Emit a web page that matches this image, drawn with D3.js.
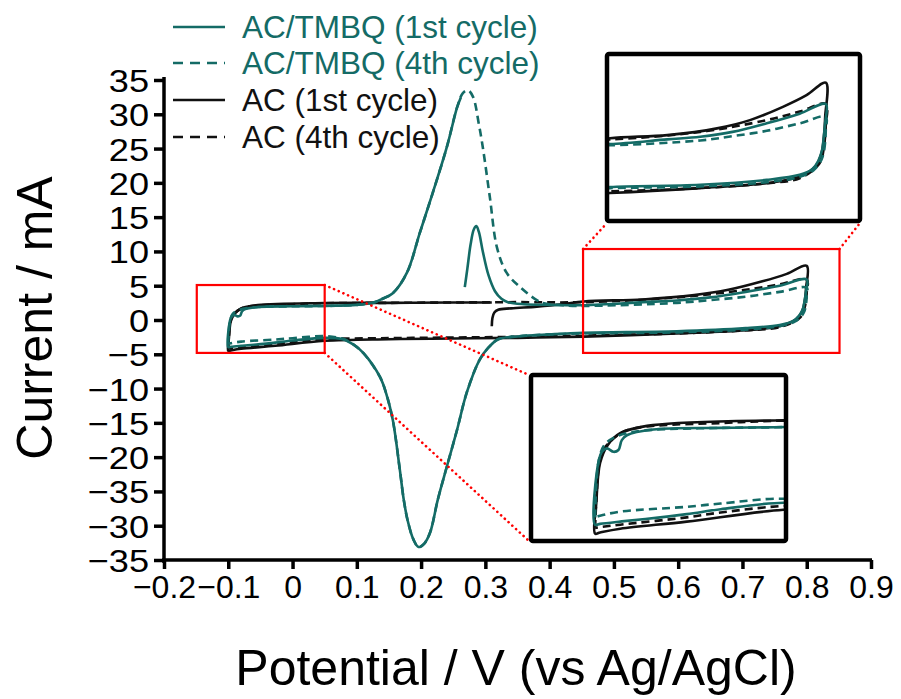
<!DOCTYPE html>
<html>
<head>
<meta charset="utf-8">
<script src="https://cdn.jsdelivr.net/npm/d3@7/dist/d3.min.js"></script>
<style>
  body { margin: 0; background: #fff; }
  svg { display: block; font-family: "Liberation Sans", Arial, sans-serif; }
</style>
</head>
<body>
<svg id="chart" width="901" height="699"></svg>
<script>
// tick labels as printed on the original figure (note the odd "-35" in place of -25)
var xTickValues = [-0.2, -0.1, 0, 0.1, 0.2, 0.3, 0.4, 0.5, 0.6, 0.7, 0.8, 0.9];
var xTickLabels = ["\u22120.2", "\u22120.1", "0", "0.1", "0.2", "0.3", "0.4", "0.5", "0.6", "0.7", "0.8", "0.9"];
var yTickValues = [35, 30, 25, 20, 15, 10, 5, 0, -5, -10, -15, -20, -25, -30, -35];
var yTickLabels = ["35", "30", "25", "20", "15", "10", "5", "0", "\u22125", "\u221210", "\u221215", "\u221220", "\u221235", "\u221230", "\u221235"];

var seriesNames = ["AC/TMBQ (1st cycle)", "AC/TMBQ (4th cycle)", "AC (1st cycle)", "AC (4th cycle)"];

// [potential V, current mA], in scan order
var acTmbq1st = [
  [0.268, 4.8], [0.272, 7.5], [0.277, 11.0], [0.282, 13.2], [0.286, 13.7], [0.290, 12.8], [0.296, 10.0],
  [0.305, 6.5], [0.315, 4.2], [0.325, 3.1], [0.335, 2.6], [0.36, 2.3], [0.40, 2.2], [0.453, 2.16],
  [0.545, 2.6], [0.598, 2.85], [0.65, 3.3], [0.705, 4.1], [0.758, 5.0], [0.80, 5.9],
  [0.799, 4.2], [0.797, 3.0], [0.794, 1.6], [0.788, 0.6], [0.778, -0.2], [0.758, -0.72], [0.705, -1.19],
  [0.598, -1.65], [0.453, -1.86], [0.40, -2.1], [0.35, -2.4], [0.32, -2.8], [0.305, -4.0], [0.291, -5.8],
  [0.271, -10.6], [0.256, -16.0], [0.240, -21.4], [0.226, -26.2], [0.214, -31.0], [0.205, -32.6],
  [0.196, -33.1], [0.188, -32.0], [0.179, -29.2], [0.173, -26.2], [0.167, -21.9], [0.156, -14.6],
  [0.146, -10.8], [0.136, -8.3], [0.110, -4.8], [0.095, -3.6], [0.078, -2.8], [0.05, -2.6],
  [0.0, -3.0], [-0.027, -3.3], [-0.06, -3.6], [-0.08, -3.76], [-0.096, -3.9], [-0.1, -3.95],
  [-0.097, 0.03], [-0.0945, 0.53], [-0.0906, 0.74], [-0.0853, 0.53], [-0.0814, 0.64], [-0.0787, 1.25],
  [-0.0747, 1.55], [-0.0536, 1.9], [0.0, 2.0], [0.052, 2.06], [0.10, 2.2], [0.125, 2.5], [0.14, 3.1],
  [0.156, 3.9], [0.178, 6.9], [0.198, 12.7], [0.218, 18.5], [0.240, 25.2], [0.256, 31.0], [0.262, 32.5]
];

var acTmbq4th = [
  [-0.1, -3.5], [-0.099, -1.5], [-0.097, 0.0], [-0.093, 0.9], [-0.085, 1.4], [-0.07, 1.75], [-0.05, 1.9],
  [0.0, 2.0], [0.05, 2.05], [0.10, 2.2], [0.125, 2.5], [0.14, 3.1], [0.156, 3.9], [0.178, 6.9],
  [0.198, 12.7], [0.218, 18.5], [0.240, 25.2], [0.256, 31.0], [0.265, 33.1], [0.273, 33.5], [0.281, 32.5],
  [0.290, 28.5], [0.296, 25.2], [0.307, 17.9], [0.318, 10.6], [0.333, 6.9], [0.354, 4.8], [0.380, 2.9],
  [0.393, 2.4], [0.42, 2.15], [0.453, 2.06], [0.598, 2.5], [0.65, 2.9], [0.705, 3.4], [0.758, 4.1], [0.80, 4.7],
  [0.800, 3.5], [0.799, 2.4], [0.796, 1.2], [0.79, 0.37], [0.78, -0.3], [0.758, -0.9], [0.705, -1.4],
  [0.598, -1.8], [0.453, -1.96], [0.40, -2.1], [0.35, -2.4], [0.32, -2.8], [0.305, -4.0], [0.291, -5.8],
  [0.271, -10.6], [0.256, -16.0], [0.240, -21.4], [0.226, -26.2], [0.214, -31.0], [0.205, -32.6],
  [0.196, -33.1], [0.188, -32.0], [0.179, -29.2], [0.173, -26.2], [0.167, -21.9], [0.156, -14.6],
  [0.146, -10.8], [0.136, -8.3], [0.110, -4.8], [0.095, -3.6], [0.078, -2.75], [0.05, -2.36],
  [0.0, -2.65], [-0.027, -2.85], [-0.08, -3.15], [-0.096, -3.4], [-0.1, -3.5]
];

var ac1st = [
  [0.310, -0.9], [0.311, 0.3], [0.314, 1.1], [0.32, 1.5], [0.34, 1.7], [0.38, 1.95], [0.42, 2.3],
  [0.453, 2.7], [0.545, 3.0], [0.625, 3.63], [0.678, 4.4], [0.731, 5.64], [0.769, 6.73], [0.80, 7.9],
  [0.799, 4.7], [0.797, 2.85], [0.793, 1.3], [0.783, 0.05], [0.757, -0.9], [0.705, -1.5], [0.598, -1.96],
  [0.453, -2.42], [0.35, -2.6], [0.25, -2.7], [0.15, -2.8], [0.05, -3.03], [-0.027, -3.76], [-0.08, -4.2],
  [-0.096, -4.43], [-0.1, -4.5],
  [-0.099, -2.6], [-0.096, -0.16], [-0.09, 0.94], [-0.08, 1.68], [-0.054, 2.17], [0.05, 2.47],
  [0.15, 2.5], [0.25, 2.55], [0.31, 2.55]
];

var ac4th = [
  [-0.1, -4.15], [-0.099, -2.5], [-0.097, -0.4], [-0.094, 0.6], [-0.09, 1.0], [-0.08, 1.65], [-0.07, 1.95],
  [-0.05, 2.15], [0.0, 2.3], [0.05, 2.45], [0.15, 2.5], [0.25, 2.55], [0.35, 2.6], [0.453, 2.6],
  [0.598, 3.3], [0.705, 4.4], [0.758, 5.2], [0.80, 5.9],
  [0.800, 4.0], [0.799, 3.0], [0.797, 1.9], [0.79, 0.37], [0.758, -1.03], [0.705, -1.5], [0.598, -1.96],
  [0.453, -2.27], [0.35, -2.45], [0.25, -2.55], [0.15, -2.65], [0.05, -2.8], [0.0, -3.2], [-0.027, -3.5],
  [-0.08, -3.95], [-0.096, -4.1], [-0.1, -4.15]
];

// zoomed windows: [vMin, vMax, iMin, iMax]
var zoomRight = [0.452, 0.851, -4.8, 10.35];
var zoomLeft = [-0.149, 0.05, -4.8, 5.1];

var teal = "#146b66";
var series = [
  {name: seriesNames[0], data: acTmbq1st, color: teal, dash: null},
  {name: seriesNames[1], data: acTmbq4th, color: teal, dash: "8,5"},
  {name: seriesNames[2], data: ac1st, color: "#111", dash: null},
  {name: seriesNames[3], data: ac4th, color: "#111", dash: "8,5"}
];

var svg = d3.select("#chart");

var x = d3.scaleLinear().domain([-0.2, 0.9]).range([164, 871]);
var y = d3.scaleLinear().domain([-35, 35]).range([560, 80]);

// axes
var yAxis = d3.axisLeft(y).tickValues(yTickValues).tickSize(10).tickSizeOuter(0).tickPadding(4)
  .tickFormat(function(d, i) { return yTickLabels[i]; });
var xAxis = d3.axisBottom(x).tickValues(xTickValues).tickSize(9).tickSizeOuter(0).tickPadding(6)
  .tickFormat(function(d, i) { return xTickLabels[i]; });

var gy = svg.append("g").attr("transform", "translate(164,0)").call(yAxis);
var gx = svg.append("g").attr("transform", "translate(0,560)").call(xAxis);
[gx, gy].forEach(function(g) {
  g.select(".domain").attr("stroke", "#000").attr("stroke-width", 3.5);
  g.selectAll(".tick line").attr("stroke", "#000").attr("stroke-width", 3.5);
  g.selectAll(".tick text").attr("fill", "#000").style("font-size", "32px")
    .style("font-family", "'Liberation Sans', Arial, sans-serif");
});
// y labels in the original are drawn a little wider than normal
gy.selectAll(".tick text")
  .attr("x", 0)
  .attr("dy", "0.36em")
  .attr("transform", "translate(-15,0) scale(1.13,1)");
gy.select(".domain").attr("d", "M0,77V563");
gx.select(".domain").attr("d", "M162,0H872");

svg.append("text")
  .attr("transform", "translate(52,318) rotate(-90)")
  .attr("text-anchor", "middle")
  .style("font-size", "50px")
  .text("Current / mA");
svg.append("text")
  .attr("x", 516).attr("y", 685)
  .attr("text-anchor", "middle")
  .style("font-size", "50px")
  .text("Potential / V (vs Ag/AgCl)");

var lineFor = function(sx, sy) {
  return d3.line()
    .x(function(d) { return sx(d[0]); })
    .y(function(d) { return sy(d[1]); })
    .curve(d3.curveCatmullRom.alpha(0.5));
};

var drawSeries = function(g, sx, sy, width) {
  var line = lineFor(sx, sy);
  // AC first, then TMBQ on top, dashed below solid
  [3, 2, 1, 0].forEach(function(k) {
    var s = series[k];
    g.append("path")
      .attr("d", line(s.data))
      .attr("fill", "none")
      .attr("stroke", s.color)
      .attr("stroke-width", width)
      .attr("stroke-dasharray", s.dash)
      .attr("stroke-linejoin", "round");
  });
};

var main = svg.append("g");
drawSeries(main, x, y, 2.6);

// red boxes marking the zoomed regions
var boxRect = function(z) {
  return {x0: x(z[0]), x1: x(z[1]), y0: y(z[3]), y1: y(z[2])};
};
var rb = boxRect(zoomRight), lb = boxRect(zoomLeft);
[rb, lb].forEach(function(b) {
  svg.append("rect")
    .attr("x", b.x0).attr("y", b.y0)
    .attr("width", b.x1 - b.x0).attr("height", b.y1 - b.y0)
    .attr("fill", "none").attr("stroke", "#f00").attr("stroke-width", 2.2);
});

// insets
var insets = [
  {zoom: zoomRight, x0: 607, y0: 54, x1: 860, y1: 221, id: "clipR"},
  {zoom: zoomLeft, x0: 531, y0: 375, x1: 786, y1: 541, id: "clipL"}
];

// dotted connectors
var connectors = [
  [rb.x0, rb.y0, insets[0].x0, insets[0].y1 + 2],
  [rb.x1, rb.y0, insets[0].x1, insets[0].y1 + 2],
  [lb.x1, lb.y0, insets[1].x0 - 2, insets[1].y0],
  [lb.x1, lb.y1, insets[1].x0 - 2, insets[1].y1]
];
connectors.forEach(function(c) {
  svg.append("line")
    .attr("x1", c[0]).attr("y1", c[1]).attr("x2", c[2]).attr("y2", c[3])
    .attr("stroke", "#f00").attr("stroke-width", 2.6)
    .attr("stroke-dasharray", "0.1,5").attr("stroke-linecap", "round");
});

insets.forEach(function(ins) {
  var pad = 2.5;
  var sx = d3.scaleLinear().domain([ins.zoom[0], ins.zoom[1]]).range([ins.x0 + pad, ins.x1 - pad]);
  var sy = d3.scaleLinear().domain([ins.zoom[2], ins.zoom[3]]).range([ins.y1 - pad, ins.y0 + pad]);
  svg.append("clipPath").attr("id", ins.id)
    .append("rect")
    .attr("x", ins.x0).attr("y", ins.y0)
    .attr("width", ins.x1 - ins.x0).attr("height", ins.y1 - ins.y0);
  svg.append("rect")
    .attr("x", ins.x0).attr("y", ins.y0)
    .attr("width", ins.x1 - ins.x0).attr("height", ins.y1 - ins.y0)
    .attr("fill", "#fff");
  var g = svg.append("g").attr("clip-path", "url(#" + ins.id + ")");
  drawSeries(g, sx, sy, 2.6);
  svg.append("rect")
    .attr("x", ins.x0).attr("y", ins.y0)
    .attr("width", ins.x1 - ins.x0).attr("height", ins.y1 - ins.y0)
    .attr("rx", 2)
    .attr("fill", "none").attr("stroke", "#000").attr("stroke-width", 4.5);
});

// legend
var legendRows = [27, 63, 100, 137];
var legend = svg.append("g");
series.forEach(function(s, k) {
  legend.append("line")
    .attr("x1", 173).attr("x2", 225)
    .attr("y1", legendRows[k]).attr("y2", legendRows[k])
    .attr("stroke", s.color).attr("stroke-width", 2.6)
    .attr("stroke-dasharray", s.dash ? "10,7" : null);
  legend.append("text")
    .attr("x", 242).attr("y", legendRows[k])
    .attr("dy", "0.35em")
    .attr("fill", s.color)
    .style("font-size", "31.5px")
    .text(s.name);
});
</script>
</body>
</html>
